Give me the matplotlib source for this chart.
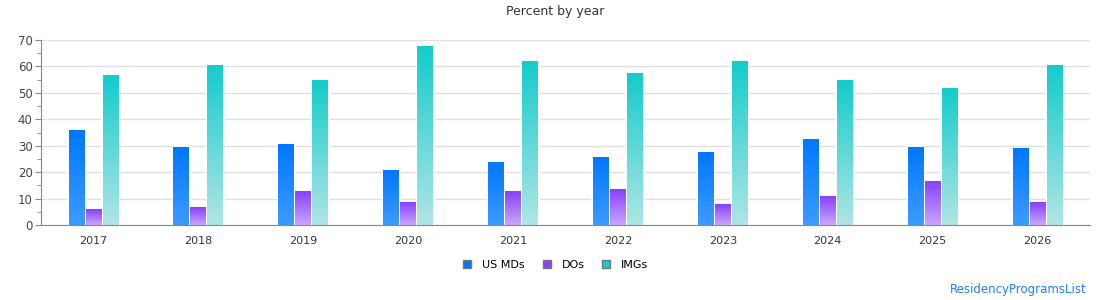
import numpy as np
import matplotlib
matplotlib.use('Agg')
import matplotlib.pyplot as plt
from matplotlib.colors import LinearSegmentedColormap
from matplotlib.patches import Patch

years = ['2017', '2018', '2019', '2020', '2021', '2022', '2023', '2024', '2025', '2026']
us_mds = [35.6, 29.5, 30.6, 20.8, 23.5, 25.7, 27.6, 32.5, 29.5, 28.8]
dos = [5.7, 6.8, 12.5, 8.7, 12.5, 13.6, 7.6, 10.6, 16.6, 8.7]
imgs = [56.7, 60.5, 54.5, 67.7, 61.7, 57.5, 61.7, 54.5, 51.5, 60.5]

series = [
    ('US MDs', us_mds, '#0077ff', '#3d9bff'),
    ('DOs', dos, '#8a3ffc', '#c9a6ff'),
    ('IMGs', imgs, '#14cccc', '#b0e5e5'),
]

fig = plt.figure(figsize=(11.1, 3.0), dpi=100)
ax = fig.add_axes([41 / 1110, 75 / 300, 1049 / 1110, 185 / 300])

x = np.arange(len(years))
w = 0.162
gap = 0.006
grad = np.linspace(0, 1, 256).reshape(-1, 1)

for i, (name, vals, top, bottom) in enumerate(series):
    cmap = LinearSegmentedColormap.from_list(name, [bottom, top])
    # white backing bars hide the gridlines around each bar
    bars = ax.bar(x + (i - 1) * w, vals, width=w, color='white',
                  edgecolor='white', linewidth=1.2, zorder=2)
    for b in bars:
        x0, y0 = b.get_x(), b.get_y()
        ax.imshow(grad, cmap=cmap, origin='lower', aspect='auto', zorder=3,
                  interpolation='bilinear',
                  extent=[x0 + gap, x0 + b.get_width() - gap, y0, y0 + b.get_height()])

ax.set_xlim(-0.5, len(years) - 0.5)
ax.set_ylim(0, 70)
ax.set_yticks(np.arange(0, 71, 10))
ax.set_yticks(np.arange(5, 70, 10), minor=True)
ax.set_xticks(x)
ax.set_xticklabels(years)
ax.grid(axis='y', color='#e0e0e0', linewidth=1, zorder=1)
ax.set_axisbelow(True)
for s in ['top', 'right']:
    ax.spines[s].set_visible(False)
for s in ['left', 'bottom']:
    ax.spines[s].set_color('#888888')
    ax.spines[s].set_zorder(4)
ax.tick_params(axis='y', which='major', length=4, color='#888888', labelsize=8.5,
               labelcolor='#444444', pad=2)
ax.tick_params(axis='y', which='minor', length=3, color='#888888')
ax.tick_params(axis='x', length=0, labelsize=8, labelcolor='#333333', pad=8)

fig.text(0.5, 1 - 12 / 300, 'Percent by year', ha='center', va='center',
         fontsize=9, color='#333333')

handles = [Patch(facecolor=top, edgecolor='#777777', label=name)
           for name, vals, top, bottom in series]
fig.legend(handles=handles, loc='center', bbox_to_anchor=(556 / 1110, 1 - 265 / 300),
           ncol=3, frameon=False, fontsize=8, handlelength=0.7, handleheight=0.7,
           columnspacing=1.6, handletextpad=1.0)

fig.text(1087 / 1110, 1 - 290 / 300, 'ResidencyProgramsList', ha='right', va='center',
         fontsize=8.5, color='#1e7fff')

fig.savefig('out.png', dpi=100)
